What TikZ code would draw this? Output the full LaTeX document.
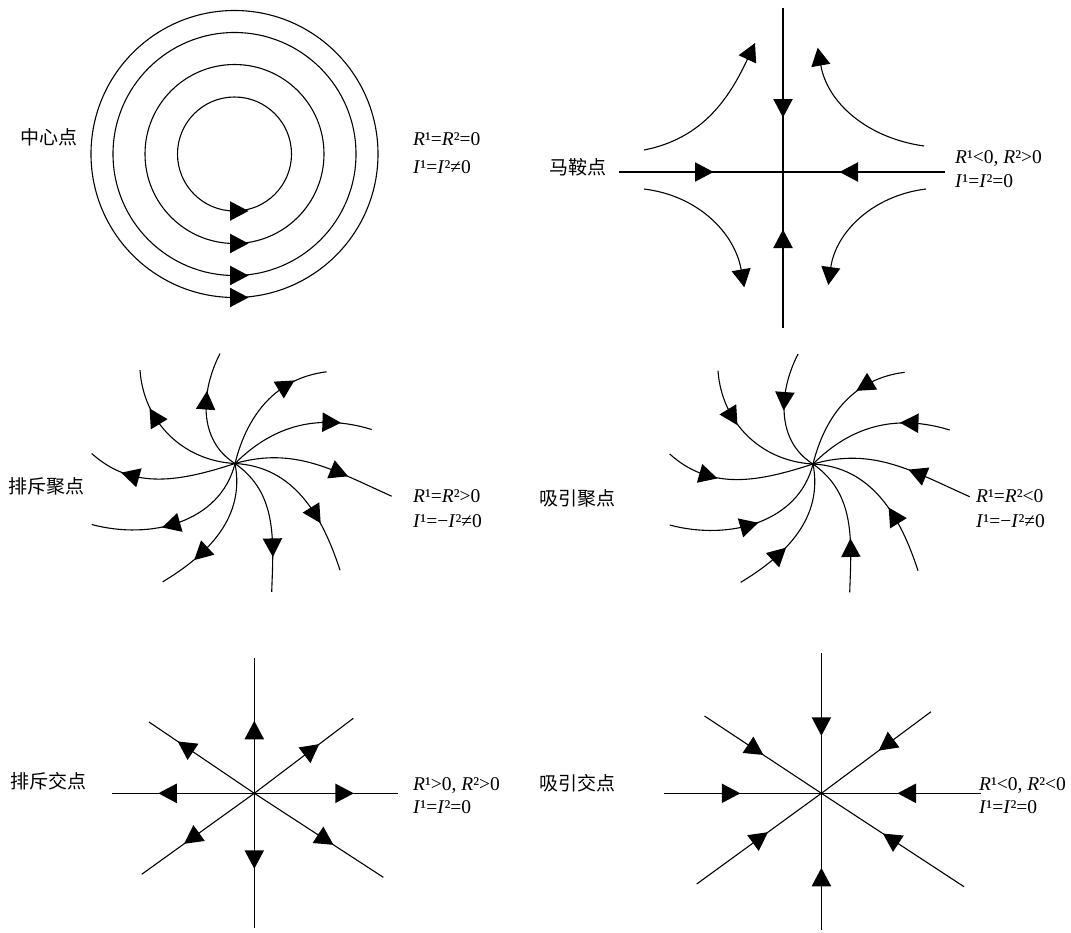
\documentclass[tikz,border=0pt]{standalone}
\usepackage{fontspec}
\setmainfont{Liberation Serif}
\newfontfamily\cjk{Noto Sans CJK SC}
\usetikzlibrary{arrows.meta,decorations.markings}
\tikzset{
  curve/.style={line width=1.1pt},
  arrout/.style={postaction={decorate,decoration={markings,mark=at position #1 with {\fill (-9,-9.8) -- (9.5,0) -- (-9,9.8) -- cycle;}}}},
  arrin/.style={postaction={decorate,decoration={markings,mark=at position #1 with {\fill (9,-9.8) -- (-9.5,0) -- (9,9.8) -- cycle;}}}},
  tipend/.style={-{Triangle[length=18pt,width=19pt]}},
  tri/.pic={\fill (-9,-9.8) -- (9.5,0) -- (-9,9.8) -- cycle;},
  cn/.style={font=\cjk\fontsize{19}{23}\selectfont, inner sep=0pt},
  eq/.style={font=\fontsize{19.5}{23}\selectfont, inner sep=0pt, anchor=base west},
}
\newcommand\focuscurves[1]{%
  \draw[curve,#1=97pt]  (0,0) to[out=177,in=274] (-95,93.3);
  \draw[curve,#1=73pt]  (0,0) to[out=148,in=243] (-15,110);
  \draw[curve,#1=96pt]  (0,0) to[out=76,in=187]  (91.7,91.7);
  \draw[curve,#1=108pt] (0,0) to[out=45,in=163]  (136.7,34);
  \draw[curve,#1=107pt] (0,0) to[out=16,in=156]  (156.7,-32.7);
  \draw[curve,#1=100pt] (0,0) to[out=-3,in=108]  (105,-106.7);
  \draw[curve,#1=96pt]  (0,0) to[out=-35,in=88]  (36.7,-128.3);
  \draw[curve,#1=101pt] (0,0) to[out=-79,in=31]  (-72.3,-118.3);
  \draw[curve,#1=93pt]  (0,0) to[out=-104,in=-15] (-143.3,-61);
  \draw[curve,#1=107pt] (0,0) to[out=198,in=-42] (-143.3,10);
}
\begin{document}
\begin{tikzpicture}[x=1pt,y=1pt]
\useasboundingbox (0,0) rectangle (1071,-932);
\fill[white] (0,0) rectangle (1071,-932);

% ---------- centre ----------
\coordinate (cC) at (234.5,-154);
\foreach \r in {57,89.5,121.5,143.5}{
  \draw[curve] (cC) circle[radius=\r];
  \pic at (239,{-154-\r}) {tri};
}
\node[cn] (lC) at (48.5,-137) {中心点};
\node[eq] (eC1) at (413,-145) {\textit{R}¹=\textit{R}²=0};
\node[eq] (eC2) at (413,-173) {\textit{I}¹=\textit{I}²≠0};

% ---------- saddle ----------
\begin{scope}[shift={(783,-172)}]
  \coordinate (sO) at (0,0);
  \draw[curve,arrin=64pt] (sO) -- (0,164);
  \draw[curve,arrin=67pt] (sO) -- (0,-156);
  \draw[curve,arrin=79pt] (sO) -- (-164,0);
  \draw[curve,arrin=66pt] (sO) -- (162,0);
\end{scope}
\coordinate (s1a) at (644,-150); \coordinate (s1b) at (755,-43);
\coordinate (s2a) at (924,-146); \coordinate (s2b) at (817.7,-47.7);
\coordinate (s3a) at (644,-189); \coordinate (s3b) at (744.3,-287.3);
\coordinate (s4a) at (926,-189); \coordinate (s4b) at (828.3,-285);
\draw[curve,tipend] (s1a) to[out=11,in=245] (s1b);
\draw[curve,tipend] (s2a) to[out=172,in=280] (s2b);
\draw[curve,tipend] (s3a) to[out=-7,in=100] (s3b);
\draw[curve,tipend] (s4a) to[out=187,in=82] (s4b);
\node[cn] (lS) at (578,-167) {马鞍点};
\node[eq] (eS1) at (955,-163) {\textit{R}¹<0, \textit{R}²>0};
\node[eq] (eS2) at (955,-187) {\textit{I}¹=\textit{I}²=0};

% ---------- repelling focus ----------
\begin{scope}[shift={(235,-463.5)}]
  \focuscurves{arrout}
\end{scope}
\node[cn] (lRF) at (47,-486) {排斥聚点};
\node[eq] (eRF1) at (413,-502) {\textit{R}¹=\textit{R}²>0};
\node[eq] (eRF2) at (413,-527) {\textit{I}¹=−\textit{I}²≠0};

% ---------- attracting focus ----------
\begin{scope}[shift={(813,-464)}]
  \focuscurves{arrin}
\end{scope}
\node[cn] (lAF) at (577,-498) {吸引聚点};
\node[eq] (eAF1) at (976,-502) {\textit{R}¹=\textit{R}²<0};
\node[eq] (eAF2) at (976,-527) {\textit{I}¹=−\textit{I}²≠0};

% ---------- repelling node ----------
\begin{scope}[shift={(254.3,-793.3)}]
  \coordinate (rO) at (0,0);
  \draw[curve,arrout=63pt]   (rO) -- (0,135.3);
  \draw[curve,arrout=66pt]   (rO) -- (0,-134.7);
  \draw[curve,arrout=86.5pt] (rO) -- (-142.3,0);
  \draw[curve,arrout=90pt]   (rO) -- (143.7,0);
  \draw[curve,arrout=83pt]   (rO) -- (-105.3,71.3);
  \draw[curve,arrout=72pt]   (rO) -- (99,75);
  \draw[curve,arrout=77pt]   (rO) -- (-112.6,-81);
  \draw[curve,arrout=85pt]   (rO) -- (129,-84);
\end{scope}
\node[cn] (lRN) at (48,-781) {排斥交点};
\node[eq] (eRN1) at (413,-790) {\textit{R}¹>0, \textit{R}²>0};
\node[eq] (eRN2) at (413,-813) {\textit{I}¹=\textit{I}²=0};

% ---------- attracting node ----------
\begin{scope}[shift={(821.4,-793.3)}]
  \coordinate (aO) at (0,0);
  \draw[curve,arrin=67pt]   (aO) -- (0,140.3);
  \draw[curve,arrin=84pt]   (aO) -- (0,-137);
  \draw[curve,arrin=90.6pt] (aO) -- (-157.4,0);
  \draw[curve,arrin=85.6pt] (aO) -- (159.6,0);
  \draw[curve,arrin=79pt]   (aO) -- (-116.9,77.3);
  \draw[curve,arrin=81pt]   (aO) -- (109.6,81.6);
  \draw[curve,arrin=75.6pt] (aO) -- (-124.7,-90.7);
  \draw[curve,arrin=83pt]   (aO) -- (142.6,-93.4);
\end{scope}
\node[cn] (lAN) at (577,-783) {吸引交点};
\node[eq] (eAN1) at (979,-790) {\textit{R}¹<0, \textit{R}²<0};
\node[eq] (eAN2) at (979,-813) {\textit{I}¹=\textit{I}²=0};
\end{tikzpicture}
\end{document}
